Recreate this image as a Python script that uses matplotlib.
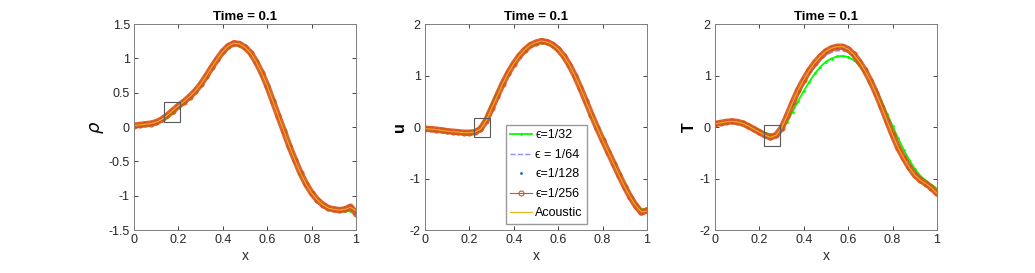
import matplotlib
matplotlib.use('Agg')
import matplotlib.pyplot as plt
from matplotlib.patches import Rectangle

plt.rcParams['font.family'] = ['Liberation Sans', 'DejaVu Sans']
plt.rcParams['mathtext.fontset'] = 'dejavusans'

# sample positions, step 0.025
x = [0, 0.025, 0.05, 0.075, 0.1, 0.125, 0.15, 0.175, 0.2, 0.225,
     0.25, 0.275, 0.3, 0.325, 0.35, 0.375, 0.4, 0.425, 0.45, 0.475,
     0.5, 0.525, 0.55, 0.575, 0.6, 0.625, 0.65, 0.675, 0.7, 0.725,
     0.75, 0.775, 0.8, 0.825, 0.85, 0.875, 0.9, 0.925, 0.95, 0.975, 1.0]

# density rho
rho_256 = [0.02, 0.03, 0.04, 0.05, 0.07, 0.11, 0.17, 0.24, 0.31, 0.37,
           0.44, 0.52, 0.62, 0.74, 0.87, 0.99, 1.1, 1.18, 1.22, 1.21,
           1.16, 1.08, 0.95, 0.79, 0.6, 0.38, 0.16, -0.06, -0.28, -0.48,
           -0.67, -0.83, -0.96, -1.06, -1.13, -1.18, -1.2, -1.21, -1.2, -1.16, -1.26]
rho_128 = [0.02, 0.03, 0.04, 0.05, 0.07, 0.11, 0.17, 0.24, 0.31, 0.37,
           0.44, 0.52, 0.62, 0.74, 0.87, 0.99, 1.1, 1.18, 1.22, 1.21,
           1.16, 1.08, 0.95, 0.79, 0.6, 0.38, 0.16, -0.06, -0.28, -0.48,
           -0.67, -0.83, -0.96, -1.06, -1.13, -1.18, -1.2, -1.21, -1.2, -1.17, -1.25]
rho_64 = [0.02, 0.03, 0.04, 0.05, 0.07, 0.11, 0.16, 0.23, 0.3, 0.37,
          0.44, 0.52, 0.62, 0.74, 0.87, 0.99, 1.1, 1.18, 1.22, 1.21,
          1.16, 1.08, 0.95, 0.79, 0.6, 0.38, 0.16, -0.06, -0.28, -0.48,
          -0.67, -0.83, -0.96, -1.06, -1.13, -1.18, -1.2, -1.21, -1.21, -1.19, -1.23]
rho_32 = [0.02, 0.03, 0.04, 0.05, 0.07, 0.1, 0.15, 0.21, 0.28, 0.35,
          0.43, 0.51, 0.61, 0.73, 0.86, 0.98, 1.09, 1.17, 1.21, 1.2,
          1.15, 1.08, 0.95, 0.79, 0.6, 0.39, 0.17, -0.05, -0.27, -0.47,
          -0.66, -0.82, -0.95, -1.06, -1.13, -1.18, -1.21, -1.22, -1.23, -1.22, -1.2]
rho_ac = [0.02, 0.03, 0.04, 0.05, 0.07, 0.11, 0.17, 0.24, 0.31, 0.37,
          0.44, 0.52, 0.62, 0.74, 0.87, 0.99, 1.1, 1.18, 1.22, 1.21,
          1.16, 1.08, 0.95, 0.79, 0.6, 0.38, 0.16, -0.06, -0.28, -0.48,
          -0.67, -0.83, -0.96, -1.06, -1.13, -1.18, -1.2, -1.21, -1.2, -1.17, -1.22]

# velocity u
u_256 = [-0.03, -0.04, -0.05, -0.065, -0.08, -0.09, -0.1, -0.11, -0.11, -0.1,
         -0.04, 0.12, 0.36, 0.6, 0.84, 1.05, 1.23, 1.38, 1.5, 1.59,
         1.64, 1.67, 1.65, 1.6, 1.51, 1.38, 1.21, 1.0, 0.76, 0.5,
         0.24, -0.01, -0.25, -0.48, -0.71, -0.94, -1.16, -1.36, -1.53, -1.66, -1.62]
u_128 = [-0.03, -0.04, -0.05, -0.065, -0.08, -0.09, -0.1, -0.11, -0.11, -0.1,
         -0.04, 0.12, 0.36, 0.6, 0.84, 1.05, 1.23, 1.38, 1.5, 1.59,
         1.64, 1.67, 1.65, 1.6, 1.51, 1.38, 1.21, 1.0, 0.76, 0.5,
         0.24, -0.01, -0.25, -0.48, -0.71, -0.94, -1.16, -1.36, -1.53, -1.66, -1.62]
u_64 = [-0.03, -0.04, -0.05, -0.065, -0.08, -0.09, -0.1, -0.11, -0.11, -0.09,
        -0.03, 0.14, 0.38, 0.61, 0.85, 1.05, 1.23, 1.38, 1.5, 1.59,
        1.64, 1.66, 1.65, 1.6, 1.51, 1.38, 1.21, 1.0, 0.76, 0.5,
        0.24, -0.01, -0.25, -0.48, -0.71, -0.94, -1.16, -1.36, -1.52, -1.64, -1.61]
u_32 = [-0.03, -0.04, -0.05, -0.065, -0.08, -0.09, -0.1, -0.1, -0.1, -0.07,
        0.01, 0.2, 0.44, 0.67, 0.89, 1.08, 1.25, 1.39, 1.5, 1.58,
        1.62, 1.64, 1.63, 1.58, 1.5, 1.37, 1.21, 1.0, 0.77, 0.51,
        0.25, 0.0, -0.24, -0.47, -0.7, -0.92, -1.13, -1.33, -1.49, -1.6, -1.58]
u_ac = [-0.03, -0.04, -0.05, -0.065, -0.08, -0.09, -0.1, -0.11, -0.11, -0.1,
        -0.04, 0.12, 0.36, 0.6, 0.84, 1.05, 1.23, 1.38, 1.5, 1.59,
        1.64, 1.67, 1.65, 1.6, 1.51, 1.38, 1.21, 1.0, 0.76, 0.5,
        0.24, -0.01, -0.25, -0.48, -0.71, -0.94, -1.16, -1.36, -1.53, -1.65, -1.63]

# temperature T
T_256 = [0.06, 0.08, 0.1, 0.11, 0.1, 0.07, 0.02, -0.04, -0.1, -0.16,
         -0.2, -0.16, -0.02, 0.22, 0.48, 0.72, 0.92, 1.1, 1.25, 1.37,
         1.47, 1.53, 1.56, 1.56, 1.51, 1.41, 1.27, 1.1, 0.9, 0.66,
         0.4, 0.12, -0.15, -0.4, -0.6, -0.78, -0.93, -1.03, -1.1, -1.18, -1.29]
T_128 = [0.06, 0.08, 0.1, 0.11, 0.1, 0.07, 0.02, -0.04, -0.1, -0.16,
         -0.2, -0.16, -0.03, 0.2, 0.46, 0.7, 0.9, 1.08, 1.23, 1.35,
         1.45, 1.51, 1.54, 1.54, 1.5, 1.4, 1.27, 1.1, 0.9, 0.66,
         0.41, 0.13, -0.14, -0.39, -0.59, -0.77, -0.92, -1.03, -1.1, -1.18, -1.28]
T_64 = [0.06, 0.08, 0.1, 0.11, 0.1, 0.07, 0.03, -0.03, -0.09, -0.14,
        -0.18, -0.15, -0.04, 0.17, 0.41, 0.64, 0.84, 1.02, 1.17, 1.29,
        1.39, 1.45, 1.48, 1.48, 1.45, 1.37, 1.25, 1.1, 0.91, 0.68,
        0.43, 0.16, -0.1, -0.34, -0.55, -0.74, -0.89, -1.0, -1.08, -1.17, -1.27]
T_32 = [0.06, 0.08, 0.1, 0.11, 0.1, 0.08, 0.04, -0.01, -0.06, -0.11,
        -0.14, -0.13, -0.06, 0.1, 0.3, 0.51, 0.7, 0.88, 1.04, 1.17,
        1.27, 1.33, 1.37, 1.38, 1.36, 1.3, 1.2, 1.08, 0.93, 0.73,
        0.5, 0.26, 0.02, -0.22, -0.44, -0.64, -0.81, -0.95, -1.04, -1.12, -1.2]
T_ac = [0.06, 0.08, 0.1, 0.11, 0.1, 0.07, 0.02, -0.04, -0.1, -0.16,
        -0.2, -0.16, -0.02, 0.22, 0.48, 0.72, 0.92, 1.1, 1.25, 1.37,
        1.47, 1.53, 1.56, 1.56, 1.51, 1.41, 1.27, 1.1, 0.9, 0.66,
        0.4, 0.12, -0.15, -0.4, -0.6, -0.78, -0.93, -1.03, -1.1, -1.18, -1.29]

labels = ['\u03f5=1/32', '\u03f5 = 1/64', '\u03f5=1/128', '\u03f5=1/256', 'Acoustic']

panels = [
    (rho_32, rho_64, rho_128, rho_256, rho_ac, r'$\rho$', (-1.5, 1.5),
     [-1.5, -1, -0.5, 0, 0.5, 1, 1.5], (0.135, 0.08, 0.07, 0.29)),
    (u_32, u_64, u_128, u_256, u_ac, 'u', (-2, 2),
     [-2, -1, 0, 1, 2], (0.22, -0.2, 0.075, 0.38)),
    (T_32, T_64, T_128, T_256, T_ac, 'T', (-2, 2),
     [-2, -1, 0, 1, 2], (0.22, -0.37, 0.075, 0.4)),
]

green = (0, 1, 0)
blue_dash = (0.55, 0.55, 1.0)
blue_dot = (0, 0.45, 0.74)
orange = (0.85, 0.33, 0.1)
yellow = (0.93, 0.69, 0.13)

fig = plt.figure(figsize=(10.35, 2.73), dpi=100)
lefts = [0.1295, 0.4106, 0.6908]

for i, (s32, s64, s128, s256, sac, ylab, ylim, yticks, box) in enumerate(panels):
    ax = fig.add_axes([lefts[i], 0.1575, 0.2145, 0.7545])
    ax.plot(x, s32, '-', color=green, lw=1.3, marker='.', markersize=2,
            label=labels[0])
    ax.plot(x, s64, '--', color=blue_dash, lw=1.0, label=labels[1])
    ax.plot(x, s128, '.', color=blue_dot, markersize=2, label=labels[2])
    ax.plot(x, s256, '-', color=orange, lw=4.6, solid_capstyle='round',
            alpha=0.9)
    ax.plot(x, s256, '-', color=orange, lw=0.8, marker='o', markersize=3.6,
            markerfacecolor='none', markeredgewidth=0.8, label=labels[3])
    ax.plot(x, sac, '-', color=yellow, lw=0.8, label=labels[4])

    ax.add_patch(Rectangle((box[0], box[1]), box[2], box[3], fill=False,
                           edgecolor='0.35', lw=0.8, zorder=5))

    ax.set_xlim(0, 1)
    ax.set_ylim(*ylim)
    ax.set_xticks([0, 0.2, 0.4, 0.6, 0.8, 1])
    ax.set_xticklabels(['0', '0.2', '0.4', '0.6', '0.8', '1'])
    ax.set_yticks(yticks)
    ax.set_yticklabels(['%g' % t for t in yticks])
    ax.tick_params(direction='in', length=3, width=0.6, labelsize=9,
                   colors='0.15', top=True, right=True, pad=3)
    for sp in ax.spines.values():
        sp.set_color('0.5')
        sp.set_linewidth(0.7)
    ax.set_title('Time = 0.1', fontsize=9.5, fontweight='bold', pad=3)
    ax.set_xlabel('x', fontsize=10, color='0.15', labelpad=2)
    if i == 0:
        ax.set_ylabel(ylab, fontsize=13, labelpad=2)
    else:
        ax.set_ylabel(ylab, fontsize=11.5, fontweight='bold', labelpad=2)

    if i == 1:
        ax.legend(loc='lower left', bbox_to_anchor=(0.365, 0.03),
                  fontsize=9, frameon=True, fancybox=False,
                  edgecolor='0.5', handlelength=1.7, handletextpad=0.3,
                  borderpad=0.35, labelspacing=0.6, borderaxespad=0)

fig.savefig('out.png', dpi=100)
